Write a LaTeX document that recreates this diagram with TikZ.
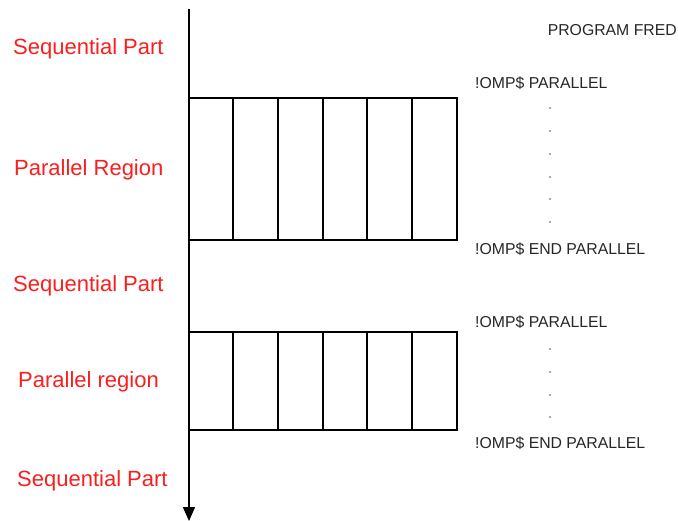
\documentclass[tikz,border=0pt]{standalone}
\usepackage{fontspec}
\setmainfont{Liberation Sans}
\usetikzlibrary{arrows.meta}
\definecolor{phase}{RGB}{250,30,30}
\begin{document}
\begin{tikzpicture}[x=1pt,y=-1pt,
  phaselabel/.style={inner sep=0pt,anchor=base west,text=phase,font=\fontsize{22}{24}\selectfont},
  codeline/.style={inner sep=0pt,anchor=base west,text=black!85,font=\fontsize{15.8}{17}\selectfont},
  gridline/.style={line width=1.6pt,black},
  codedot/.style={circle,fill=black!70,inner sep=0pt,minimum size=1.8pt}]
\useasboundingbox (0,0) rectangle (678,521);

% time axis
\coordinate (top) at (189,9);
\coordinate (bottom) at (189,521);
\draw[gridline,-{Triangle[length=14pt,width=12pt]}] (top) -- (bottom);

% parallel regions: six threads each
\foreach \ya/\yb in {98/240,332/430}{
  \draw[gridline] (189,\ya) rectangle (457,\yb);
  \foreach \x in {233,278,323,367,412}
    \draw[gridline] (\x,\ya) -- (\x,\yb);
}

% phase labels
\node[phaselabel] (s1) at (13,55) {Sequential Part};
\node[phaselabel] (p1) at (14,176) {Parallel Region};
\node[phaselabel] (s2) at (13,292) {Sequential Part};
\node[phaselabel] (p2) at (18,388) {Parallel region};
\node[phaselabel] (s3) at (17,486) {Sequential Part};

% program text
\node[codeline,anchor=base east] (prog) at (677,36) {PROGRAM FRED};
\node[codeline] (par1) at (475,88.5) {!OMP\$ PARALLEL};
\node[codeline] (end1) at (475,255) {!OMP\$ END PARALLEL};
\node[codeline] (par2) at (475,327.5) {!OMP\$ PARALLEL};
\node[codeline] (end2) at (475,448.5) {!OMP\$ END PARALLEL};
\foreach \y [count=\i] in {108,131,154,177,199,222}
  \node[codedot] (da\i) at (550,\y) {};
\foreach \y [count=\i] in {349,372,395,417}
  \node[codedot] (db\i) at (550,\y) {};
\end{tikzpicture}
\end{document}
